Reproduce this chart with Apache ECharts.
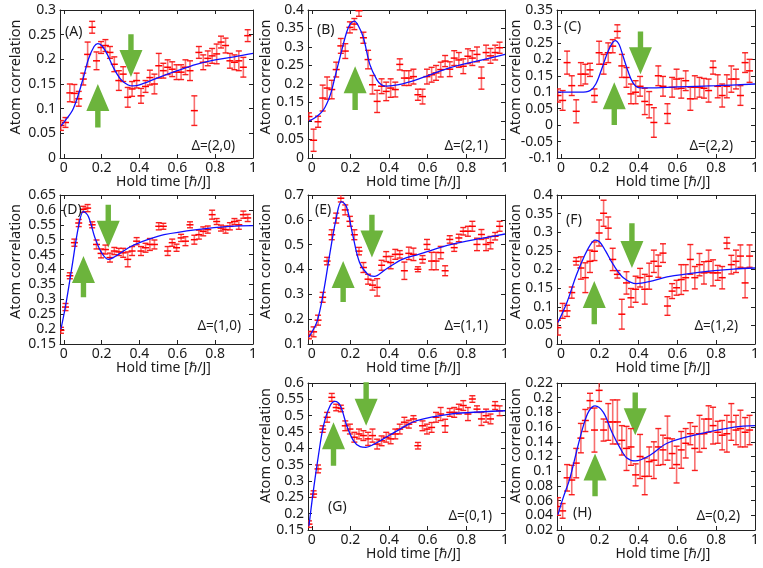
<!DOCTYPE html>
<html>
<head>
<meta charset="utf-8">
<script src="https://cdn.jsdelivr.net/npm/echarts@6/dist/echarts.min.js"></script>
<style>
  html, body { margin: 0; padding: 0; background: #fff; }
  #chart { width: 763px; height: 568px; }
</style>
</head>
<body>
<div id="chart"></div>
<script>
// hold time of the measured points (same grid in every panel)
var holdTime = [-0.015, 0.009, 0.032, 0.056, 0.079, 0.103, 0.126, 0.150, 0.173, 0.197, 0.220,
  0.244, 0.267, 0.291, 0.314, 0.338, 0.361, 0.385, 0.408, 0.432, 0.455, 0.479, 0.502, 0.526,
  0.549, 0.573, 0.596, 0.620, 0.643, 0.667, 0.690, 0.714, 0.737, 0.761, 0.784, 0.808, 0.831,
  0.855, 0.878, 0.902, 0.925, 0.949, 0.972];
var xTicks = [0, 0.2, 0.4, 0.6, 0.8, 1];

// (A) Δ=(2,0)
var valA = [0.066, 0.072, 0.132, 0.131, 0.12, 0.16, 0.21, 0.265, 0.197, 0.224, 0.228, 0.214, 0.19, 0.157, 0.17, 0.123, 0.14, 0.157, 0.126, 0.145, 0.163, 0.15, 0.187, 0.177, 0.184, 0.18, 0.174, 0.174, 0.184, 0.177, 0.096, 0.214, 0.194, 0.202, 0.207, 0.211, 0.235, 0.228, 0.197, 0.194, 0.197, 0.184, 0.248];
var errA = [0.01, 0.01, 0.018, 0.018, 0.015, 0.012, 0.025, 0.012, 0.018, 0.012, 0.012, 0.012, 0.015, 0.02, 0.015, 0.02, 0.015, 0.015, 0.015, 0.012, 0.015, 0.02, 0.025, 0.015, 0.015, 0.015, 0.015, 0.015, 0.015, 0.02, 0.03, 0.012, 0.015, 0.015, 0.015, 0.02, 0.012, 0.015, 0.015, 0.015, 0.02, 0.02, 0.012];
var fitTA = [-0.015, 0, 0.05, 0.1, 0.13, 0.16, 0.18, 0.2, 0.23, 0.26, 0.3, 0.34, 0.37, 0.4, 0.5, 0.6, 0.7, 0.8, 0.9, 1.0];
var fitA = [0.065, 0.072, 0.1, 0.158, 0.2, 0.226, 0.232, 0.228, 0.21, 0.185, 0.16, 0.148, 0.146, 0.148, 0.163, 0.177, 0.19, 0.199, 0.205, 0.212];
var arrowsA = [[0.355, 0.251, 0.164], [0.18, 0.062, 0.15]];

// (B) Δ=(2,1)
var valB = [0.112, 0.048, 0.098, 0.162, 0.189, 0.185, 0.239, 0.303, 0.289, 0.353, 0.362, 0.398, 0.325, 0.266, 0.198, 0.153, 0.194, 0.18, 0.189, 0.185, 0.253, 0.216, 0.216, 0.22, 0.171, 0.166, 0.22, 0.225, 0.23, 0.239, 0.262, 0.24, 0.27, 0.265, 0.248, 0.275, 0.27, 0.28, 0.216, 0.285, 0.276, 0.285, 0.298];
var errB = [0.01, 0.03, 0.015, 0.035, 0.03, 0.025, 0.02, 0.02, 0.02, 0.015, 0.015, 0.015, 0.015, 0.025, 0.025, 0.03, 0.02, 0.025, 0.025, 0.02, 0.015, 0.02, 0.02, 0.02, 0.015, 0.02, 0.02, 0.02, 0.02, 0.02, 0.015, 0.02, 0.02, 0.02, 0.02, 0.02, 0.02, 0.02, 0.03, 0.02, 0.02, 0.02, 0.015];
var fitTB = [-0.015, 0.02, 0.06, 0.095, 0.12, 0.147, 0.18, 0.2, 0.22, 0.24, 0.267, 0.3, 0.336, 0.36, 0.388, 0.45, 0.543, 0.716, 0.888, 1.0];
var fitB = [0.1, 0.11, 0.13, 0.17, 0.22, 0.275, 0.34, 0.363, 0.37, 0.358, 0.325, 0.253, 0.212, 0.198, 0.194, 0.198, 0.212, 0.244, 0.266, 0.28];
var arrowsB = [[0.224, 0.13, 0.248]];

// (C) Δ=(2,2)
var valC = [0.09, 0.075, 0.19, 0.12, 0.042, 0.155, 0.155, 0.168, 0.09, 0.22, 0.185, 0.22, 0.24, 0.285, 0.18, 0.145, 0.095, 0.1, 0.118, 0.072, 0.062, 0.008, 0.15, 0.118, 0.035, 0.115, 0.14, 0.112, 0.135, 0.08, 0.115, 0.115, 0.112, 0.105, 0.175, 0.118, 0.09, 0.118, 0.14, 0.14, 0.09, 0.19, 0.165];
var errC = [0.02, 0.03, 0.035, 0.03, 0.035, 0.035, 0.03, 0.02, 0.02, 0.035, 0.03, 0.03, 0.02, 0.02, 0.035, 0.03, 0.03, 0.035, 0.03, 0.04, 0.04, 0.045, 0.03, 0.03, 0.03, 0.03, 0.03, 0.03, 0.03, 0.035, 0.035, 0.03, 0.03, 0.035, 0.02, 0.035, 0.035, 0.035, 0.04, 0.03, 0.03, 0.03, 0.035];
var fitTC = [-0.015, 0.1, 0.15, 0.18, 0.21, 0.24, 0.265, 0.28, 0.3, 0.32, 0.345, 0.37, 0.4, 0.45, 0.6, 0.8, 1.0];
var fitC = [0.1, 0.1, 0.105, 0.125, 0.17, 0.22, 0.25, 0.257, 0.245, 0.21, 0.165, 0.13, 0.114, 0.113, 0.116, 0.12, 0.125];
var arrowsC = [[0.41, 0.285, 0.155], [0.275, 0.0, 0.13]];

// (D) Δ=(1,0)
var valD = [0.196, 0.274, 0.379, 0.49, 0.556, 0.602, 0.606, 0.55, 0.484, 0.454, 0.467, 0.44, 0.462, 0.459, 0.456, 0.434, 0.462, 0.495, 0.462, 0.473, 0.484, 0.484, 0.545, 0.545, 0.462, 0.49, 0.473, 0.506, 0.495, 0.55, 0.5, 0.517, 0.528, 0.534, 0.584, 0.561, 0.539, 0.534, 0.545, 0.561, 0.55, 0.584, 0.573];
var errD = [0.01, 0.012, 0.01, 0.012, 0.012, 0.01, 0.012, 0.01, 0.015, 0.015, 0.015, 0.015, 0.012, 0.012, 0.015, 0.025, 0.015, 0.012, 0.015, 0.015, 0.02, 0.015, 0.012, 0.01, 0.015, 0.012, 0.012, 0.012, 0.015, 0.01, 0.015, 0.015, 0.015, 0.012, 0.015, 0.01, 0.01, 0.012, 0.012, 0.01, 0.015, 0.012, 0.012];
var fitTD = [-0.015, 0.01, 0.044, 0.078, 0.104, 0.13, 0.165, 0.2, 0.235, 0.287, 0.357, 0.443, 0.53, 0.704, 0.878, 1.0];
var fitD = [0.2, 0.28, 0.412, 0.545, 0.595, 0.578, 0.506, 0.456, 0.434, 0.45, 0.478, 0.5, 0.517, 0.534, 0.545, 0.547];
var arrowsD = [[0.235, 0.617, 0.473], [0.104, 0.307, 0.445]];

// (E) Δ=(1,1)
var valE = [0.136, 0.149, 0.196, 0.288, 0.434, 0.54, 0.607, 0.687, 0.64, 0.594, 0.54, 0.474, 0.408, 0.361, 0.337, 0.328, 0.417, 0.452, 0.428, 0.461, 0.461, 0.395, 0.465, 0.461, 0.401, 0.441, 0.501, 0.434, 0.434, 0.468, 0.395, 0.521, 0.488, 0.527, 0.554, 0.554, 0.574, 0.501, 0.541, 0.501, 0.508, 0.534, 0.574];
var errE = [0.015, 0.02, 0.02, 0.02, 0.015, 0.02, 0.02, 0.015, 0.02, 0.02, 0.02, 0.015, 0.02, 0.02, 0.02, 0.035, 0.02, 0.02, 0.025, 0.02, 0.015, 0.035, 0.025, 0.025, 0.01, 0.015, 0.02, 0.035, 0.035, 0.025, 0.02, 0.015, 0.015, 0.015, 0.015, 0.02, 0.02, 0.025, 0.02, 0.025, 0.025, 0.015, 0.02];
var fitTE = [-0.015, 0.026, 0.06, 0.094, 0.128, 0.153, 0.179, 0.213, 0.247, 0.289, 0.323, 0.383, 0.468, 0.553, 0.723, 0.893, 1.0];
var fitE = [0.129, 0.189, 0.308, 0.468, 0.614, 0.673, 0.654, 0.534, 0.428, 0.381, 0.372, 0.401, 0.441, 0.461, 0.501, 0.527, 0.543];
var arrowsE = [[0.311, 0.62, 0.448], [0.162, 0.269, 0.434]];

// (F) Δ=(1,2)
var valF = [0.044, 0.089, 0.089, 0.138, 0.222, 0.204, 0.178, 0.222, 0.249, 0.298, 0.351, 0.311, 0.227, 0.187, 0.08, 0.164, 0.124, 0.147, 0.178, 0.147, 0.182, 0.222, 0.209, 0.244, 0.102, 0.142, 0.151, 0.173, 0.178, 0.227, 0.178, 0.213, 0.191, 0.222, 0.191, 0.191, 0.178, 0.271, 0.213, 0.222, 0.236, 0.164, 0.236];
var errF = [0.02, 0.02, 0.015, 0.015, 0.01, 0.03, 0.04, 0.03, 0.025, 0.035, 0.035, 0.03, 0.03, 0.01, 0.04, 0.03, 0.025, 0.035, 0.025, 0.04, 0.035, 0.03, 0.03, 0.025, 0.025, 0.02, 0.02, 0.04, 0.035, 0.04, 0.03, 0.03, 0.03, 0.03, 0.035, 0.02, 0.03, 0.015, 0.025, 0.03, 0.03, 0.04, 0.03];
var fitTF = [-0.015, 0.03, 0.08, 0.12, 0.15, 0.176, 0.2, 0.23, 0.27, 0.322, 0.39, 0.46, 0.547, 0.72, 0.89, 1.0];
var fitF = [0.058, 0.11, 0.185, 0.235, 0.265, 0.279, 0.274, 0.25, 0.213, 0.178, 0.162, 0.168, 0.18, 0.193, 0.201, 0.204];
var arrowsF = [[0.366, 0.324, 0.204], [0.172, 0.053, 0.169]];

// (G) Δ=(0,1)
var valG = [0.168, 0.26, 0.337, 0.459, 0.495, 0.556, 0.525, 0.522, 0.469, 0.459, 0.434, 0.444, 0.439, 0.429, 0.439, 0.413, 0.423, 0.434, 0.429, 0.444, 0.459, 0.48, 0.474, 0.49, 0.408, 0.469, 0.459, 0.464, 0.495, 0.505, 0.469, 0.51, 0.51, 0.52, 0.531, 0.505, 0.551, 0.52, 0.49, 0.5, 0.49, 0.531, 0.515];
var errG = [0.01, 0.01, 0.012, 0.01, 0.015, 0.012, 0.01, 0.01, 0.015, 0.015, 0.015, 0.015, 0.015, 0.02, 0.02, 0.015, 0.015, 0.015, 0.015, 0.015, 0.015, 0.015, 0.012, 0.01, 0.01, 0.015, 0.015, 0.015, 0.015, 0.02, 0.02, 0.012, 0.015, 0.015, 0.015, 0.02, 0.01, 0.01, 0.02, 0.02, 0.015, 0.012, 0.015];
var fitTG = [-0.015, 0.009, 0.034, 0.06, 0.095, 0.12, 0.147, 0.181, 0.216, 0.25, 0.28, 0.32, 0.37, 0.457, 0.543, 0.716, 0.888, 1.0];
var fitG = [0.163, 0.276, 0.378, 0.469, 0.531, 0.544, 0.531, 0.469, 0.423, 0.405, 0.403, 0.412, 0.429, 0.459, 0.485, 0.505, 0.512, 0.515];
var arrowsG = [[0.281, 0.602, 0.469], [0.112, 0.347, 0.48]];

// (H) Δ=(0,2)
var valH = [0.052, 0.046, 0.091, 0.088, 0.111, 0.145, 0.169, 0.196, 0.156, 0.21, 0.156, 0.167, 0.167, 0.167, 0.142, 0.131, 0.133, 0.095, 0.12, 0.093, 0.113, 0.115, 0.133, 0.129, 0.145, 0.124, 0.109, 0.129, 0.138, 0.151, 0.131, 0.151, 0.151, 0.171, 0.162, 0.153, 0.149, 0.151, 0.167, 0.156, 0.158, 0.153, 0.156];
var errH = [0.012, 0.01, 0.018, 0.02, 0.02, 0.02, 0.015, 0.01, 0.03, 0.015, 0.015, 0.025, 0.03, 0.03, 0.02, 0.03, 0.025, 0.015, 0.03, 0.025, 0.02, 0.025, 0.025, 0.02, 0.03, 0.02, 0.025, 0.025, 0.02, 0.015, 0.03, 0.025, 0.02, 0.018, 0.025, 0.015, 0.02, 0.025, 0.025, 0.02, 0.025, 0.02, 0.02];
var fitTH = [-0.015, 0.012, 0.047, 0.081, 0.116, 0.145, 0.176, 0.219, 0.263, 0.306, 0.34, 0.383, 0.461, 0.547, 0.72, 0.893, 1.0];
var fitH = [0.041, 0.064, 0.091, 0.127, 0.162, 0.182, 0.189, 0.18, 0.153, 0.131, 0.118, 0.114, 0.122, 0.138, 0.151, 0.16, 0.162];
var arrowsH = [[0.383, 0.207, 0.149], [0.176, 0.066, 0.124]];

// layout of the 3x3 panel grid (pixels)
var colLeft = [60, 308, 557];
var colWidth = [193, 197, 198];
var rowTop = [10, 195, 383];
var rowHeight = [148, 149, 147];
var yTitleGap = [44, 42, 41];
var yTitleShift = [7, 8, 11];

var FONT = 'Noto Sans';
var TEXT = '#1a1a1a';
var AXIS = '#222';

var panels = [
  { tag: '(A)', delta: 'Δ=(2,0)', row: 0, col: 0, val: valA, err: errA, fitT: fitTA, fit: fitA, arrows: arrowsA, yMin: 0, yMax: 0.3, yStep: 0.05, tagAt: [5, 22], deltaAt: [18, 12] },
  { tag: '(B)', delta: 'Δ=(2,1)', row: 0, col: 1, val: valB, err: errB, fitT: fitTB, fit: fitB, arrows: arrowsB, yMin: 0, yMax: 0.4, yStep: 0.05, tagAt: [9, 20], deltaAt: [17, 12] },
  { tag: '(C)', delta: 'Δ=(2,2)', row: 0, col: 2, val: valC, err: errC, fitT: fitTC, fit: fitC, arrows: arrowsC, yMin: -0.1, yMax: 0.35, yStep: 0.05, tagAt: [7, 17], deltaAt: [22, 12] },
  { tag: '(D)', delta: 'Δ=(1,0)', row: 1, col: 0, val: valD, err: errD, fitT: fitTD, fit: fitD, arrows: arrowsD, yMin: 0.15, yMax: 0.65, yStep: 0.05, tagAt: [3, 15], deltaAt: [12, 18] },
  { tag: '(E)', delta: 'Δ=(1,1)', row: 1, col: 1, val: valE, err: errE, fitT: fitTE, fit: fitE, arrows: arrowsE, yMin: 0.1, yMax: 0.7, yStep: 0.1, tagAt: [7, 15], deltaAt: [17, 18] },
  { tag: '(F)', delta: 'Δ=(1,2)', row: 1, col: 2, val: valF, err: errF, fitT: fitTF, fit: fitF, arrows: arrowsF, yMin: 0, yMax: 0.4, yStep: 0.05, tagAt: [9, 25], deltaAt: [17, 18] },
  { tag: '(G)', delta: 'Δ=(0,1)', row: 2, col: 1, val: valG, err: errG, fitT: fitTG, fit: fitG, arrows: arrowsG, yMin: 0.15, yMax: 0.6, yStep: 0.05, tagAt: [20, 124], deltaAt: [13, 14] },
  { tag: '(H)', delta: 'Δ=(0,2)', row: 2, col: 2, val: valH, err: errH, fitT: fitTH, fit: fitH, arrows: arrowsH, yMin: 0.02, yMax: 0.22, yStep: 0.02, tagAt: [16, 130], deltaAt: [15, 14] }
];

function fmt (v) {
  return String(parseFloat(v.toFixed(3)));
}

// red point with vertical error bar and caps
function renderErrorBar (params, api) {
  var t = api.value(0);
  var v = api.value(1);
  var e = api.value(2);
  var c = api.coord([t, v]);
  var hi = api.coord([t, v + e]);
  var lo = api.coord([t, v - e]);
  var bar = { stroke: 'rgba(245,50,50,0.7)', lineWidth: 1.6 };
  var cap = { stroke: 'rgba(250,20,20,0.95)', lineWidth: 1.4 };
  return {
    type: 'group',
    children: [
      { type: 'line', shape: { x1: c[0], y1: hi[1], x2: c[0], y2: lo[1] }, style: bar },
      { type: 'line', shape: { x1: c[0] - 3, y1: hi[1], x2: c[0] + 3, y2: hi[1] }, style: cap },
      { type: 'line', shape: { x1: c[0] - 3, y1: lo[1], x2: c[0] + 3, y2: lo[1] }, style: cap },
      { type: 'line', shape: { x1: c[0] - 3.5, y1: c[1], x2: c[0] + 3.5, y2: c[1] }, style: { stroke: '#ff0000', lineWidth: 1.5 } }
    ]
  };
}

// green block arrow from tail value to tip value
function renderArrow (params, api) {
  var t = api.value(0);
  var tail = api.coord([t, api.value(1)]);
  var tip = api.coord([t, api.value(2)]);
  var dir = tip[1] > tail[1] ? 1 : -1;
  var x = tail[0];
  var headLen = 27;
  var headHalf = 11.5;
  var shaftHalf = 2.7;
  var neck = tip[1] - dir * headLen;
  return {
    type: 'polygon',
    shape: {
      points: [
        [x - shaftHalf, tail[1]], [x + shaftHalf, tail[1]], [x + shaftHalf, neck],
        [x + headHalf, neck], [x, tip[1]], [x - headHalf, neck], [x - shaftHalf, neck]
      ]
    },
    style: { fill: '#6cb43c' }
  };
}

var option = {
  animation: false,
  backgroundColor: '#fff',
  textStyle: { fontFamily: FONT },
  grid: [],
  xAxis: [],
  yAxis: [],
  series: [],
  graphic: []
}

panels.forEach(function (p, k) {
  var left = colLeft[p.col];
  var top = rowTop[p.row];
  var w = colWidth[p.col];
  var h = rowHeight[p.row];

  option.grid.push({ left: left, top: top, width: w, height: h, containLabel: false, outerBoundsMode: 'none' });

  var line = { show: true, onZero: false, lineStyle: { color: AXIS, width: 1 } };
  option.xAxis.push({
    type: 'value', gridIndex: k, position: 'bottom', min: -0.02, max: 1,
    axisLine: line,
    axisTick: { inside: true, length: 4, customValues: xTicks, lineStyle: { color: AXIS } },
    axisLabel: { customValues: xTicks, margin: 3, fontSize: 14, color: TEXT, fontFamily: FONT, formatter: fmt },
    splitLine: { show: false }
  });
  option.xAxis.push({
    type: 'value', gridIndex: k, position: 'top', min: -0.02, max: 1,
    axisLine: line,
    axisTick: { inside: true, length: 4, customValues: xTicks, lineStyle: { color: AXIS } },
    axisLabel: { show: false },
    splitLine: { show: false }
  });
  option.yAxis.push({
    type: 'value', gridIndex: k, position: 'left', min: p.yMin, max: p.yMax, interval: p.yStep,
    axisLine: line,
    axisTick: { inside: true, length: 4, lineStyle: { color: AXIS } },
    axisLabel: { margin: 4, fontSize: 14, color: TEXT, fontFamily: FONT, formatter: fmt },
    splitLine: { show: false }
  });
  option.yAxis.push({
    type: 'value', gridIndex: k, position: 'right', min: p.yMin, max: p.yMax, interval: p.yStep,
    axisLine: line,
    axisTick: { inside: true, length: 4, lineStyle: { color: AXIS } },
    axisLabel: { show: false },
    splitLine: { show: false }
  });

  var xi = k * 2;
  var yi = k * 2;
  option.series.push({
    type: 'custom', xAxisIndex: xi, yAxisIndex: yi, silent: true, z: 2, clip: false,
    data: p.arrows, encode: { x: 0, y: [1, 2] }, renderItem: renderArrow
  });
  option.series.push({
    type: 'custom', xAxisIndex: xi, yAxisIndex: yi, silent: true, z: 3, clip: true,
    data: p.val.map(function (v, i) { return [holdTime[i], v, p.err[i]] }),
    encode: { x: 0, y: 1 }, renderItem: renderErrorBar
  });
  option.series.push({
    type: 'line', xAxisIndex: xi, yAxisIndex: yi, silent: true, z: 4,
    data: p.fitT.map(function (t, i) { return [t, p.fit[i]] }),
    smooth: 0.35, showSymbol: false, symbol: 'none',
    lineStyle: { color: '#1010ff', width: 1.3 }
  });

  // texts
  option.graphic.push({
    type: 'text', x: left + p.tagAt[0], y: top + p.tagAt[1], z: 10,
    style: { text: p.tag, fontSize: 14, fontFamily: FONT, fill: TEXT, align: 'left', verticalAlign: 'middle' }
  });
  option.graphic.push({
    type: 'text', x: left + w - p.deltaAt[0], y: top + h - p.deltaAt[1], z: 10,
    style: { text: p.delta, fontSize: 13.5, fontFamily: FONT, fill: TEXT, align: 'right', verticalAlign: 'middle' }
  });
  option.graphic.push({
    type: 'text', x: left + w / 2 + 7, y: top + h + 24, z: 10,
    style: { text: 'Hold time [ℏ/J]', fontSize: 14, fontFamily: FONT, fill: TEXT, align: 'center', verticalAlign: 'middle' }
  });
  option.graphic.push({
    type: 'text', x: left - yTitleGap[p.col], y: top + h / 2 - yTitleShift[p.row], rotation: Math.PI / 2, z: 10,
    style: { text: 'Atom correlation', fontSize: 14.5, fontFamily: FONT, fill: TEXT, align: 'center', verticalAlign: 'middle' }
  });
});

var chart = echarts.init(document.getElementById('chart'));
chart.setOption(option);
</script>
</body>
</html>
